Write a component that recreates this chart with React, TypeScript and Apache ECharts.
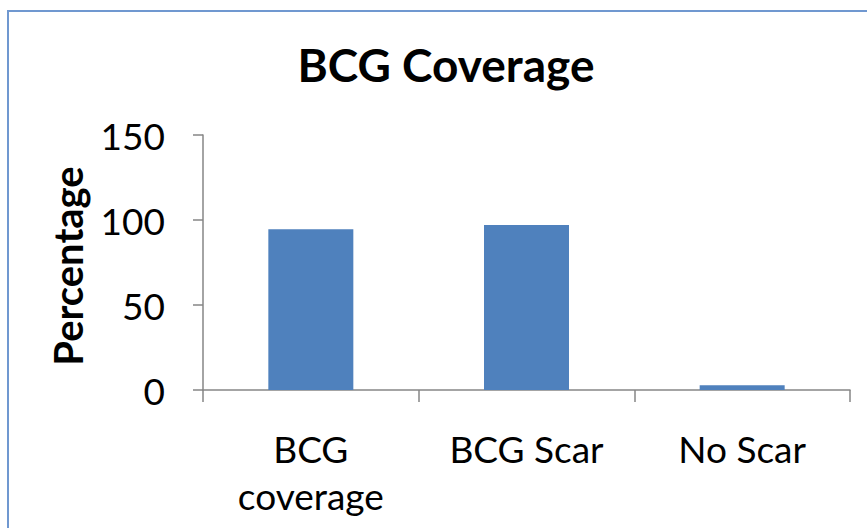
import React, { useEffect, useRef } from "react";
import * as echarts from "echarts";

const categories = ["BCG\ncoverage", "BCG Scar", "No Scar"];
const values = [94.5, 97, 2.8];
const titleText = "BCG Coverage";
const yAxisTitle = "Percentage";

const FONT = "Lato, 'Open Sans', sans-serif";

export default function App() {
  const ref = useRef<HTMLDivElement>(null);
  useEffect(() => {
    if (!ref.current) return;
    const chart = echarts.init(ref.current, undefined, { renderer: "svg" });
    chart.setOption({
      animation: false,
      backgroundColor: "#ffffff",
      grid: { left: 203, right: 17, top: 135, bottom: 138, containLabel: false },
      xAxis: {
        type: "category",
        data: categories,
        boundaryGap: true,
        axisLine: { lineStyle: { color: "#868686", width: 1.5 } },
        axisTick: { show: true, length: 12, lineStyle: { color: "#868686", width: 1.5 } },
        axisLabel: {
          color: "#000",
          fontFamily: FONT,
          fontSize: 37,
          lineHeight: 47,
          margin: 35,
          interval: 0,
        },
      },
      yAxis: {
        type: "value",
        min: 0,
        max: 150,
        interval: 50,
        splitLine: { show: false },
        axisLine: { show: true, lineStyle: { color: "#868686", width: 1.5 } },
        axisTick: { show: true, length: 10, lineStyle: { color: "#868686", width: 1.5 } },
        axisLabel: { color: "#000", fontFamily: FONT, fontSize: 37, margin: 38 },
      },
      series: [
        {
          type: "bar",
          data: values,
          barWidth: 85,
          itemStyle: { color: "#4F81BD" },
        },
      ],
      graphic: [
        {
          type: "rect",
          shape: { x: 8, y: 11, width: 1000, height: 1000 },
          style: { fill: "none", stroke: "#7098d0", lineWidth: 2 },
          z: 100,
        },
        {
          type: "text",
          x: 446,
          y: 64,
          style: {
            text: titleText,
            fontFamily: FONT,
            fontWeight: "bold",
            fontSize: 46,
            fill: "#000",
            align: "center",
            verticalAlign: "middle",
          },
        },
        {
          type: "text",
          x: 68,
          y: 266,
          rotation: Math.PI / 2,
          style: {
            text: yAxisTitle,
            fontFamily: FONT,
            fontWeight: "bold",
            fontSize: 40,
            fill: "#000",
            align: "center",
            verticalAlign: "middle",
          },
        },
      ],
    });
    return () => chart.dispose();
  }, []);
  return (
    <div
      ref={ref}
      style={{ position: "fixed", left: 0, top: 0, width: 867, height: 528 }}
    />
  );
}
